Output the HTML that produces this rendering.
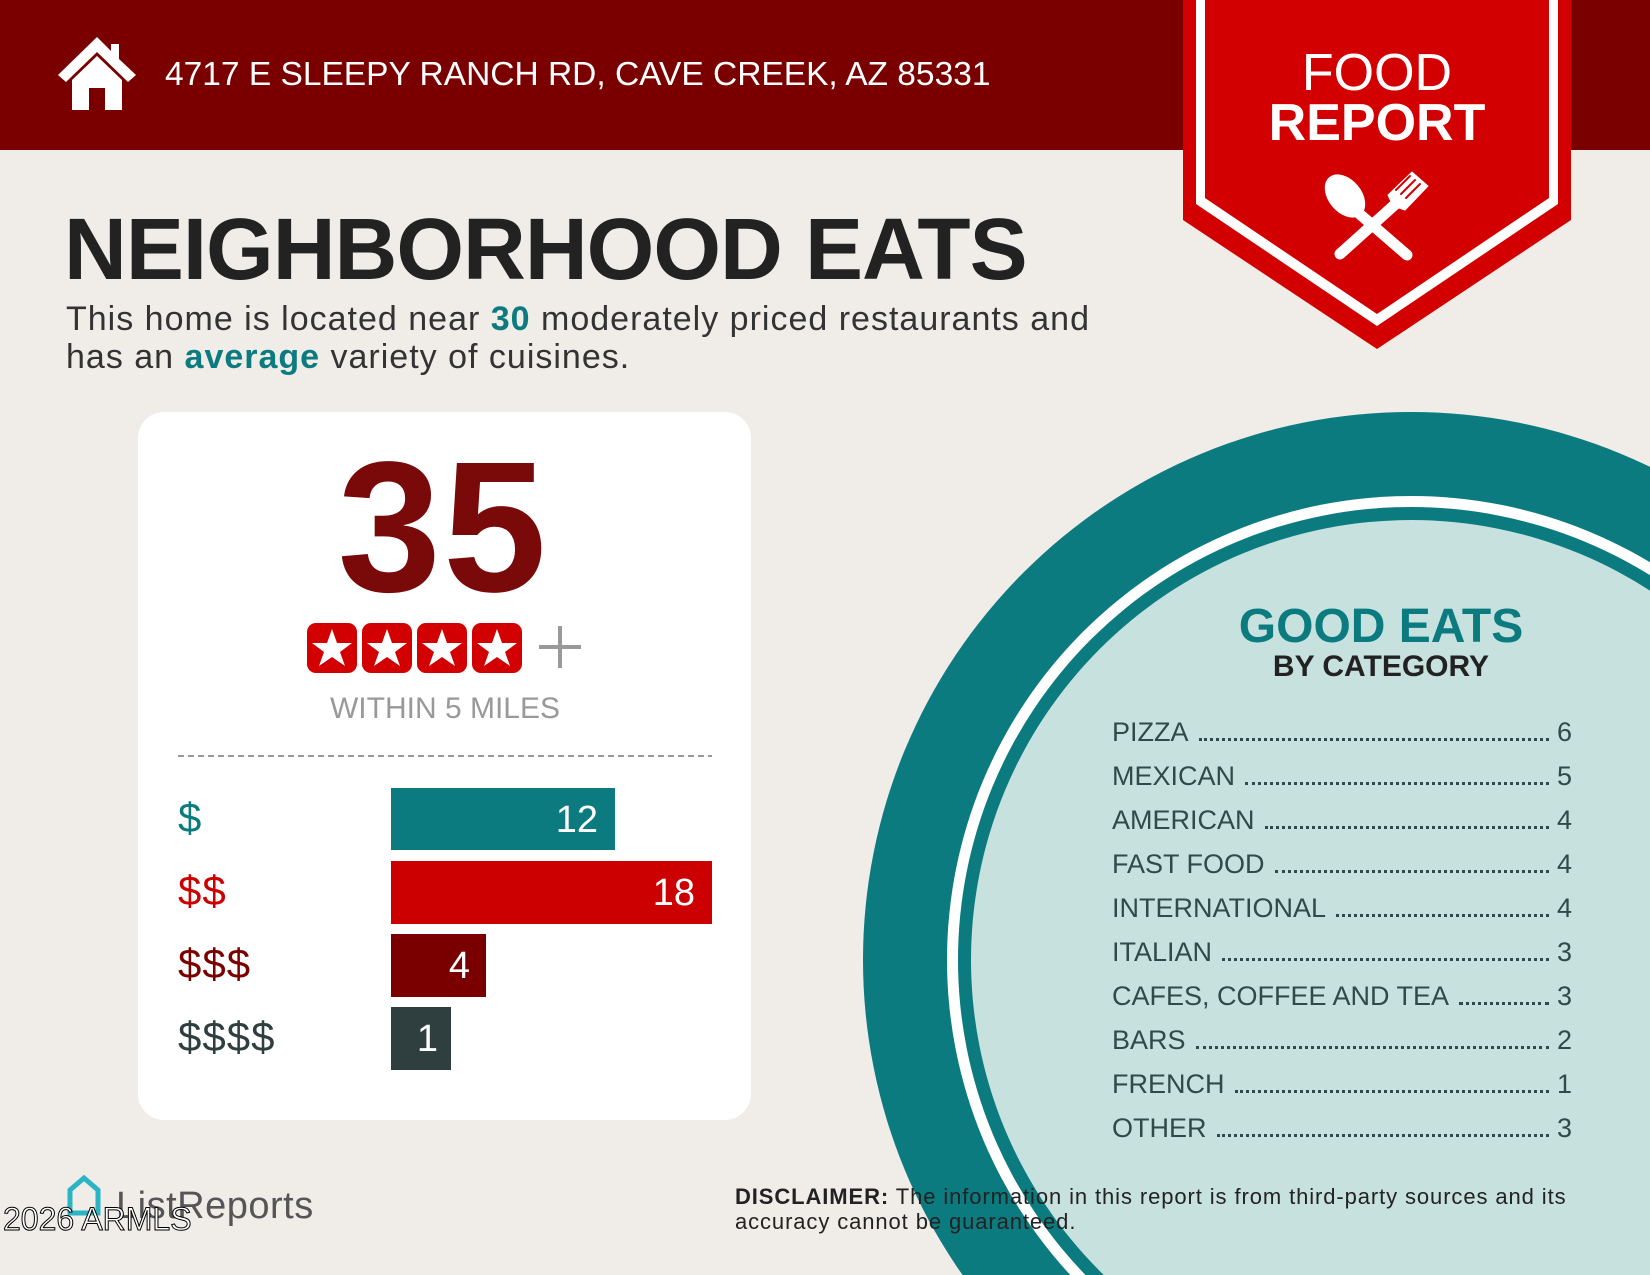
<!DOCTYPE html>
<html><head><meta charset="utf-8"><style>
*{margin:0;padding:0;box-sizing:border-box}
html,body{width:1650px;height:1275px;overflow:hidden}
body{background:#f0ece8;font-family:"Liberation Sans",sans-serif;position:relative}
.abs{position:absolute}
.row{position:absolute;left:1112px;width:460px;display:flex;align-items:flex-end;font-size:27px;color:#2f4a48;height:32px}
.row .f{flex:1;border-bottom:3px dotted #2f4a48;margin:0 8px 7px 10px}
</style></head><body>
<svg class="abs" style="left:0;top:0" width="1650" height="1275" viewBox="0 0 1650 1275">
<rect x="0" y="0" width="1650" height="150" fill="#7a0000"/>
<circle cx="1411" cy="960" r="548" fill="#0b7b80"/>
<circle cx="1411" cy="960" r="464" fill="#ffffff"/>
<circle cx="1411" cy="960" r="453" fill="#0b7b80"/>
<circle cx="1411" cy="960" r="440" fill="#c7e1df"/>
<polygon points="1183,0 1571,0 1571,220 1377,349 1183,220" fill="#d20000"/>
<polygon points="1196,0 1558,0 1558,204 1377,326 1196,204" fill="#ffffff"/>
<polygon points="1205,0 1549,0 1549,198 1377,314 1205,198" fill="#d20000"/>
<g fill="#fff" stroke="#fff" stroke-linecap="round">
<ellipse cx="1345" cy="196" rx="16" ry="24" transform="rotate(-40 1345 196)"/>
<line x1="1355" y1="210" x2="1407" y2="255" stroke-width="11"/>
<line x1="1340" y1="254" x2="1400" y2="200" stroke-width="11"/>
<path d="M1393,206 L1388,195 L1412,172 L1428,186 L1405,210 Z" stroke-width="1"/>
<line x1="1410" y1="176" x2="1396" y2="190" stroke="#d20000" stroke-width="2"/>
<line x1="1415" y1="180" x2="1401" y2="194" stroke="#d20000" stroke-width="2"/>
<line x1="1420" y1="184" x2="1406" y2="198" stroke="#d20000" stroke-width="2"/>
</g>
<g fill="#fff">
<polygon points="97,37 58,75 66,82 97,52 128,82 136,75 119,59 119,44 111,44 111,51"/>
<polygon points="72,80 97,56 122,80 122,110 105,110 105,88 89,88 89,110 72,110"/>
</g>
<rect x="138" y="412" width="613" height="708" rx="26" fill="#fff"/>
<line x1="178" y1="756" x2="712" y2="756" stroke="#999" stroke-width="2" stroke-dasharray="6,4"/>
<rect x="391" y="788" width="224" height="62" fill="#0b7b80"/>
<rect x="391" y="861" width="321" height="63" fill="#cc0000"/>
<rect x="391" y="934" width="95" height="63" fill="#7a0000"/>
<rect x="391" y="1007" width="60" height="63" fill="#2f3f40"/>
<g font-family="Liberation Sans" font-size="38" fill="#fff" text-anchor="end">
<text x="598" y="832">12</text><text x="695" y="905">18</text><text x="470" y="978">4</text><text x="438" y="1051">1</text>
</g>
<g font-family="Liberation Sans" font-size="42" letter-spacing="1">
<text x="178" y="832" fill="#0b7b80">$</text>
<text x="178" y="905" fill="#cc0000">$$</text>
<text x="178" y="978" fill="#7a0000">$$$</text>
<text x="178" y="1051" fill="#2f3f40">$$$$</text>
</g>
<g>
<rect x="307" y="623" width="50" height="50" rx="9" fill="#d20000"/>
<rect x="362" y="623" width="50" height="50" rx="9" fill="#d20000"/>
<rect x="417" y="623" width="50" height="50" rx="9" fill="#d20000"/>
<rect x="472" y="623" width="50" height="50" rx="9" fill="#d20000"/>
<g fill="#fff">
<polygon id="s" points="332,629 337,643 352,643 340,652 345,666 332,657 319,666 324,652 312,643 327,643"/>
<use href="#s" x="55"/><use href="#s" x="110"/><use href="#s" x="165"/>
</g>
<rect x="539" y="645" width="42" height="4" fill="#999"/>
<rect x="558" y="626" width="4" height="42" fill="#999"/>
</g>
<text x="445" y="718" font-family="Liberation Sans" font-size="30" fill="#999" text-anchor="middle">WITHIN 5 MILES</text>
<text x="443" y="591" font-family="Liberation Sans" font-weight="bold" font-size="186" fill="#7a0a0a" text-anchor="middle" letter-spacing="2">35</text>
<path d="M70,1213 L70,1190 L84,1178 L98,1190 L98,1213 Z" fill="none" stroke="#2bb5c4" stroke-width="5"/>
<text x="116" y="1218" font-family="Liberation Sans" font-size="38" fill="#555" letter-spacing="0.5">ListReports</text>
<text x="3" y="1230" font-family="Liberation Sans" font-size="32" fill="#fff" stroke="#000" stroke-width="1">2026 ARMLS</text>
</svg>
<div class="abs" style="left:165px;top:56px;font-size:33.5px;color:#fff;white-space:nowrap">4717 E SLEEPY RANCH RD, CAVE CREEK, AZ 85331</div>
<div class="abs" style="left:1183px;width:388px;top:48px;text-align:center;color:#fff;font-size:52px;line-height:50px">FOOD<br><b>REPORT</b></div>
<div class="abs" style="left:64px;top:200px;font-size:87px;font-weight:bold;color:#222;letter-spacing:-1px;white-space:nowrap">NEIGHBORHOOD EATS</div>
<div class="abs" style="left:66px;top:300px;font-size:34px;line-height:38px;color:#333;white-space:nowrap;letter-spacing:1px">This home is located near <b style="color:#0b7b80">30</b> moderately priced restaurants and<br>has an <b style="color:#0b7b80">average</b> variety of cuisines.</div>
<div class="abs" style="left:1181px;width:400px;top:599px;text-align:center;font-size:48px;font-weight:bold;color:#0b7b80">GOOD EATS</div>
<div class="abs" style="left:1181px;width:400px;top:650px;text-align:center;font-size:30px;font-weight:bold;color:#222">BY CATEGORY</div>
<div class="row" style="top:716px"><span>PIZZA</span><span class="f"></span><span>6</span></div>
<div class="row" style="top:760px"><span>MEXICAN</span><span class="f"></span><span>5</span></div>
<div class="row" style="top:804px"><span>AMERICAN</span><span class="f"></span><span>4</span></div>
<div class="row" style="top:848px"><span>FAST FOOD</span><span class="f"></span><span>4</span></div>
<div class="row" style="top:892px"><span>INTERNATIONAL</span><span class="f"></span><span>4</span></div>
<div class="row" style="top:936px"><span>ITALIAN</span><span class="f"></span><span>3</span></div>
<div class="row" style="top:980px"><span>CAFES, COFFEE AND TEA</span><span class="f"></span><span>3</span></div>
<div class="row" style="top:1024px"><span>BARS</span><span class="f"></span><span>2</span></div>
<div class="row" style="top:1068px"><span>FRENCH</span><span class="f"></span><span>1</span></div>
<div class="row" style="top:1112px"><span>OTHER</span><span class="f"></span><span>3</span></div>
<div class="abs" style="left:735px;top:1184px;font-size:22px;line-height:25px;color:#222;white-space:nowrap;letter-spacing:0.9px"><b>DISCLAIMER:</b> The information in this report is from third-party sources and its<br>accuracy cannot be guaranteed.</div>
</body></html>
